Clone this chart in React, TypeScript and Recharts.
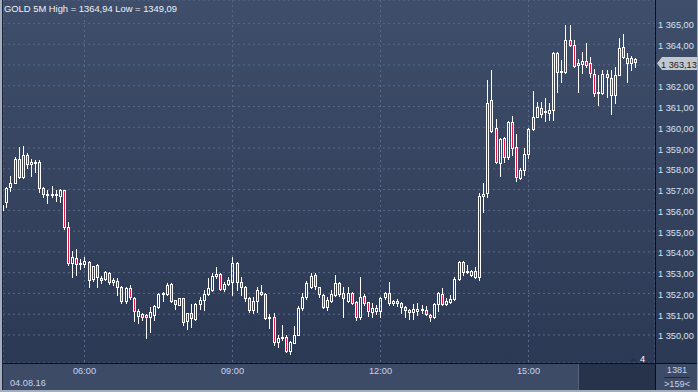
import React from 'react';
import { ComposedChart, Bar, XAxis, YAxis, CartesianGrid } from 'recharts';

// GOLD, 5 minute bars, first bar 04:20 (index 0)
const opens = [
  1356.02, 1356.41, 1357.13, 1357.32, 1358.48, 1357.61, 1358.67, 1358.24, 1358.26, 1358.33,
  1357.08, 1356.79, 1356.74, 1356.79, 1356.70, 1356.98, 1355.20, 1353.47, 1353.71, 1353.42,
  1353.42, 1353.52, 1352.70, 1353.37, 1352.75, 1352.70, 1352.99, 1352.55, 1352.60, 1352.31,
  1351.64, 1352.26, 1351.78, 1350.92, 1351.01, 1350.97, 1350.87, 1350.97, 1351.35, 1351.98,
  1351.98, 1352.46, 1351.69, 1351.45, 1351.78, 1350.68, 1351.06, 1350.77, 1351.50, 1351.69,
  1351.98, 1352.17, 1352.84, 1352.94, 1352.22, 1352.46, 1352.55, 1353.47, 1352.55, 1352.31,
  1351.78, 1351.21, 1351.64, 1352.07, 1351.98, 1350.82, 1350.87, 1349.67, 1349.86, 1349.91,
  1349.23, 1349.62, 1350.00, 1351.30, 1351.83, 1352.31, 1352.89, 1352.31, 1351.93, 1351.35,
  1351.64, 1351.93, 1352.51, 1352.03, 1351.64, 1352.03, 1351.59, 1350.87, 1351.88, 1351.59,
  1351.11, 1351.16, 1351.16, 1351.83, 1352.03, 1351.54, 1351.64, 1351.54, 1351.35, 1351.11,
  1351.11, 1351.16, 1351.25, 1351.21, 1350.97, 1350.87, 1351.50, 1351.98, 1351.50, 1351.59,
  1351.73, 1352.70, 1353.52, 1353.04, 1352.89, 1353.08, 1352.79, 1356.70, 1356.84, 1361.32,
  1359.97, 1358.28, 1359.49, 1358.57, 1360.26, 1359.05, 1357.56, 1357.95, 1358.72, 1359.92,
  1360.50, 1360.93, 1360.75, 1360.69, 1360.84, 1363.58, 1362.66, 1362.66, 1364.21, 1363.96,
  1363.00, 1363.05, 1363.20, 1363.10, 1362.57, 1361.65, 1361.65, 1362.57, 1362.37, 1361.56,
  1362.52, 1363.87, 1363.34, 1363.10, 1363.29,
];

const highs = [
  1356.36, 1357.13, 1357.66, 1358.57, 1359.05, 1359.10, 1358.77, 1358.48, 1358.43, 1358.43,
  1357.13, 1356.98, 1357.18, 1356.98, 1357.03, 1357.00, 1355.44, 1354.05, 1354.14, 1353.66,
  1353.76, 1353.55, 1353.34, 1353.40, 1352.84, 1353.08, 1353.04, 1352.75, 1352.75, 1352.35,
  1352.31, 1352.41, 1351.83, 1351.25, 1351.06, 1351.00, 1351.35, 1351.45, 1352.03, 1352.05,
  1352.51, 1352.51, 1351.70, 1351.80, 1351.80, 1351.08, 1351.50, 1351.54, 1351.83, 1352.17,
  1352.75, 1352.99, 1353.28, 1352.99, 1352.55, 1352.79, 1353.76, 1353.52, 1352.79, 1352.36,
  1351.83, 1351.83, 1352.31, 1352.41, 1352.00, 1351.01, 1351.06, 1350.00, 1350.48, 1350.00,
  1349.70, 1350.43, 1351.40, 1352.02, 1352.60, 1352.99, 1352.99, 1352.33, 1351.98, 1351.83,
  1352.17, 1352.89, 1352.55, 1352.31, 1352.31, 1352.07, 1351.64, 1352.79, 1351.98, 1351.60,
  1351.54, 1351.45, 1351.83, 1352.07, 1352.55, 1351.69, 1351.73, 1351.59, 1351.40, 1351.25,
  1351.50, 1351.54, 1351.45, 1351.40, 1351.01, 1351.52, 1352.07, 1352.26, 1351.78, 1351.93,
  1352.79, 1353.57, 1353.55, 1353.37, 1353.13, 1353.28, 1356.84, 1357.32, 1362.28, 1362.76,
  1360.40, 1359.49, 1359.54, 1360.31, 1360.55, 1359.68, 1358.04, 1359.00, 1359.97, 1361.75,
  1361.22, 1361.22, 1361.41, 1361.17, 1363.63, 1363.63, 1363.24, 1364.93, 1364.94, 1364.21,
  1363.29, 1363.63, 1364.06, 1363.39, 1362.81, 1362.52, 1362.76, 1362.76, 1362.76, 1362.90,
  1364.30, 1364.49, 1363.58, 1363.44, 1363.34,
];

const lows = [
  1355.73, 1356.17, 1356.94, 1357.30, 1357.58, 1357.58, 1358.04, 1357.66, 1357.85, 1356.89,
  1356.65, 1356.36, 1356.65, 1356.45, 1356.41, 1355.11, 1353.37, 1352.79, 1352.89, 1353.18,
  1353.28, 1352.31, 1352.60, 1352.31, 1352.51, 1352.65, 1352.46, 1352.41, 1351.93, 1351.54,
  1351.54, 1351.73, 1350.68, 1350.58, 1350.72, 1349.86, 1350.15, 1350.72, 1351.30, 1351.64,
  1351.93, 1351.59, 1351.25, 1351.43, 1350.48, 1350.29, 1350.39, 1350.72, 1351.25, 1351.21,
  1351.93, 1352.12, 1352.75, 1352.17, 1352.12, 1352.41, 1351.93, 1352.17, 1351.93, 1351.64,
  1351.11, 1351.06, 1351.11, 1351.93, 1350.77, 1350.34, 1349.52, 1349.42, 1349.76, 1349.20,
  1349.09, 1349.60, 1349.98, 1351.21, 1351.73, 1352.26, 1352.22, 1351.83, 1351.30, 1351.21,
  1351.59, 1351.88, 1351.88, 1350.87, 1351.59, 1351.50, 1350.72, 1350.77, 1351.45, 1350.92,
  1350.87, 1351.01, 1350.87, 1351.73, 1351.45, 1351.45, 1351.40, 1351.06, 1350.87, 1350.77,
  1350.77, 1350.97, 1351.06, 1350.97, 1350.68, 1350.82, 1351.16, 1351.45, 1351.45, 1351.54,
  1351.69, 1352.65, 1352.89, 1352.99, 1352.84, 1352.75, 1352.65, 1355.92, 1356.65, 1359.77,
  1358.28, 1357.66, 1358.33, 1358.48, 1358.67, 1357.42, 1357.51, 1357.71, 1358.52, 1359.87,
  1360.49, 1360.50, 1360.31, 1360.35, 1360.35, 1361.70, 1362.18, 1362.61, 1363.92, 1362.90,
  1361.70, 1362.61, 1362.90, 1362.42, 1361.51, 1361.08, 1361.60, 1361.46, 1360.64, 1361.17,
  1362.50, 1363.34, 1362.18, 1362.76, 1362.90,
];

const closes = [
  1356.26, 1357.08, 1357.32, 1358.48, 1357.61, 1358.67, 1358.24, 1358.33, 1358.33, 1357.08,
  1356.79, 1356.74, 1356.79, 1356.74, 1356.98, 1355.20, 1353.47, 1353.76, 1353.42, 1353.47,
  1353.57, 1352.65, 1353.32, 1352.79, 1352.65, 1353.04, 1352.55, 1352.65, 1352.31, 1351.64,
  1352.26, 1351.83, 1351.16, 1351.16, 1350.87, 1350.87, 1351.11, 1351.40, 1351.98, 1352.03,
  1352.41, 1351.64, 1351.50, 1351.78, 1350.63, 1351.06, 1350.82, 1351.50, 1351.69, 1351.98,
  1352.26, 1352.84, 1352.94, 1352.22, 1352.46, 1352.65, 1353.47, 1352.55, 1352.31, 1351.78,
  1351.21, 1351.64, 1352.17, 1351.98, 1350.82, 1350.87, 1349.67, 1349.86, 1349.91, 1349.23,
  1349.67, 1350.00, 1351.30, 1351.83, 1352.51, 1352.84, 1352.36, 1351.98, 1351.35, 1351.69,
  1351.98, 1352.51, 1351.98, 1351.78, 1352.03, 1351.54, 1350.87, 1351.83, 1351.54, 1351.16,
  1351.30, 1351.30, 1351.78, 1352.03, 1351.54, 1351.64, 1351.54, 1351.35, 1351.21, 1351.21,
  1351.25, 1351.25, 1351.20, 1351.01, 1350.87, 1351.50, 1352.03, 1351.50, 1351.64, 1351.73,
  1352.70, 1353.52, 1353.04, 1353.08, 1353.08, 1352.79, 1356.70, 1356.79, 1361.17, 1359.82,
  1358.33, 1359.44, 1358.57, 1360.26, 1359.00, 1357.61, 1357.95, 1358.72, 1359.92, 1360.50,
  1360.98, 1360.64, 1360.79, 1360.84, 1363.58, 1362.66, 1362.71, 1364.21, 1363.96, 1362.95,
  1363.10, 1363.20, 1363.00, 1362.61, 1361.65, 1361.70, 1362.57, 1362.42, 1361.56, 1362.52,
  1363.82, 1363.39, 1363.10, 1363.34, 1363.13,
];

const timeTicks = [20, 56, 92, 128];
const timeLabels = ['06:00', '09:00', '12:00', '15:00'];
const priceTicks = [1350, 1351, 1352, 1353, 1354, 1355, 1356, 1357, 1358, 1359, 1360, 1361, 1362, 1363, 1364, 1365];

const symbol = 'GOLD 5M';
const sessionHigh = '1364,94';
const sessionLow = '1349,09';
const lastPrice = 1363.13;
const dateLabel = '04.08.16';
const barCount = '1381';
const visibleBars = '>159<';

const data = opens.map((o, i) => ({ i, o, h: highs[i], l: lows[i], c: closes[i] }));

const FONT = '"Liberation Sans", Arial, sans-serif';

const fmtPrice = (v: number) => {
  const s = v.toFixed(2).replace('.', ',');
  return s.slice(0, s.length - 6) + ' ' + s.slice(-6);
};

// hollow = up bar, red filled = down bar
const Candle = (props: any) => {
  const { x, y, width, height, payload } = props;
  const { o, h, l, c } = payload;
  if (!(h > l)) return null;
  const top = Math.min(y, y + height);
  const bot = Math.max(y, y + height);
  const k = (bot - top) / (h - l);
  const py = (v: number) => Math.round(top + (h - v) * k);
  const col = Math.floor(x + width / 2);
  const bear = c < o;
  const t = py(Math.max(o, c));
  const b = Math.max(py(Math.min(o, c)), t + 1);
  const yh = py(h);
  const yl = py(l);
  return (
    <g>
      {yh < t && <line x1={col + 0.5} x2={col + 0.5} y1={yh} y2={t} stroke="#ffffff" strokeWidth={1} />}
      {yl > b && <line x1={col + 0.5} x2={col + 0.5} y1={b + 1} y2={yl + 1} stroke="#ffffff" strokeWidth={1} />}
      <rect x={col - 0.5} y={t + 0.5} width={2} height={b - t} fill={bear ? '#e2173f' : 'none'} stroke="#ffffff" strokeWidth={1} />
    </g>
  );
};

// the tick under the last-price marker is hidden, as in the terminal
const PriceTick = (props: any) => {
  const { x, y, payload } = props;
  if (Math.abs(payload.value - lastPrice) < 0.5) return <g />;
  return (
    <text x={x} y={y + 4.5} fill="#d8e3f3" fontSize={9.2} fontFamily={FONT}>
      {fmtPrice(payload.value)}
    </text>
  );
};

export default function App() {
  return (
    <div style={{ position: 'relative', width: 698, height: 392, overflow: 'hidden', fontFamily: FONT }}>
      <style>{'body{margin:0}'}</style>
      {/* backgrounds */}
      <div style={{ position: 'absolute', left: 0, top: 0, width: 698, height: 364, background: 'linear-gradient(#3f4e6a, #2c3955)' }} />
      <div style={{ position: 'absolute', left: 0, top: 364, width: 698, height: 28, background: '#3e4b67' }} />
      <div style={{ position: 'absolute', left: 578, top: 364, width: 77, height: 26, background: '#27324b', borderLeft: '1px solid #55627c' }} />

      <div style={{ position: 'absolute', left: 0, top: 0 }}>
        <ComposedChart width={698} height={392} data={data} margin={{ top: 0, right: 0, bottom: 0, left: 3 }}>
          <CartesianGrid stroke="#5a6987" strokeDasharray="2 3" />
          <XAxis
            type="number"
            dataKey="i"
            domain={[0.175, 158.77]}
            allowDataOverflow
            ticks={timeTicks}
            interval={0}
            tickFormatter={(v: number) => timeLabels[timeTicks.indexOf(v)]}
            height={29}
            axisLine={false}
            tickLine={false}
            tickSize={0}
            tickMargin={4}
            tick={{ fill: '#c4d5ee', fontSize: 9.2, fontFamily: FONT }}
          />
          <YAxis
            orientation="right"
            type="number"
            domain={[1348.65, 1366.13]}
            allowDataOverflow
            ticks={priceTicks}
            interval={0}
            width={43}
            axisLine={false}
            tickLine={false}
            tickSize={0}
            tickMargin={3}
            tick={<PriceTick />}
          />
          <Bar dataKey={(d: any) => [d.l, d.h]} barSize={3} shape={<Candle />} isAnimationActive={false} />
        </ComposedChart>
      </div>

      <svg width={698} height={392} style={{ position: 'absolute', left: 0, top: 0, pointerEvents: 'none' }}>
        <text x={4} y={12} fill="#eef2f8" fontSize={9.4} fontFamily={FONT}>
          {`${symbol} High = ${sessionHigh} Low = ${sessionLow}`}
        </text>
        <text x={10} y={386} fill="#c4d5ee" fontSize={9.2} fontFamily={FONT}>{dateLabel}</text>

        {/* last price marker */}
        <polygon points="657,63.5 662,57 698,57 698,70 662,70" fill="#c3c8d0" />
        <text x={661} y={67.5} fill="#1a1a1a" fontSize={9.2} fontFamily={FONT}>{fmtPrice(lastPrice)}</text>

        {/* bar counter */}
        <polygon points="630,361 633.5,357.5 637,361" fill="#26304a" />
        <text x={640} y={362} fill="#ffffff" fontSize={9.2} fontFamily={FONT}>4</text>
        <text x={677} y={373} fill="#c4d5ee" fontSize={9.2} fontFamily={FONT} textAnchor="middle">{barCount}</text>
        <rect x={664} y={377} width={26} height={1} fill="#1f2940" />
        <text x={677} y={387} fill="#c4d5ee" fontSize={9.2} fontFamily={FONT} textAnchor="middle">{visibleBars}</text>

        {/* frame */}
        <rect x={655} y={0} width={1} height={392} fill="#0a0e16" />
        <rect x={0} y={363} width={698} height={1} fill="#0a0e16" />
        <rect x={0} y={0} width={2} height={392} fill="#a3adbd" />
        <rect x={2} y={0} width={1} height={392} fill="#1d2538" />
        <rect x={0} y={390} width={698} height={2} fill="#a3adbd" />
        <rect x={697} y={0} width={1} height={392} fill="#a3adbd" />
      </svg>
    </div>
  );
}
